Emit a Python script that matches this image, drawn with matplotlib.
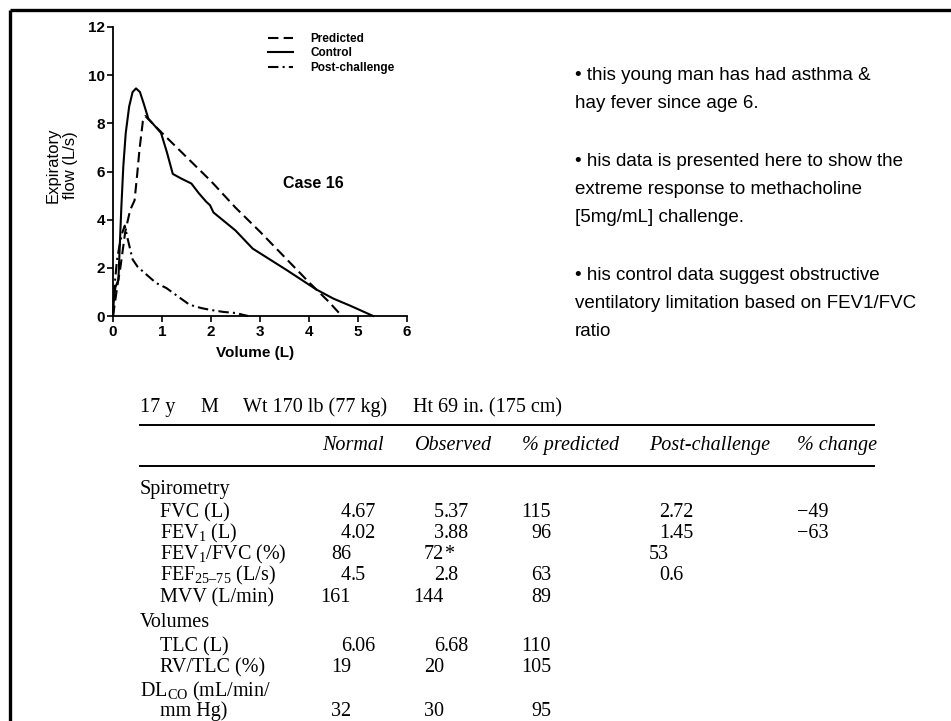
import matplotlib
matplotlib.use("Agg")
import matplotlib.pyplot as plt

plt.rcParams['font.family'] = ['Liberation Sans', 'DejaVu Sans']
plt.rcParams['mathtext.fontset'] = 'custom'
plt.rcParams['mathtext.rm'] = 'Liberation Serif'
plt.rcParams['mathtext.it'] = 'Liberation Serif:italic'

# flow-volume curves
pred_vol = [0.0, 0.05, 0.10, 0.15, 0.25, 0.35, 0.44, 0.49, 0.54, 0.61, 0.66,
            1.0, 1.5, 2.0, 2.5, 3.0, 3.5, 4.0, 4.4, 4.67]
pred_flow = [0.0, 0.7, 1.4, 2.0, 3.5, 4.4, 4.8, 5.8, 6.9, 8.1, 8.3,
             7.6, 6.6, 5.6, 4.5, 3.5, 2.45, 1.4, 0.6, 0.0]

ctrl_vol = [0.0, 0.02, 0.05, 0.11, 0.13, 0.17, 0.21, 0.26, 0.33, 0.40, 0.47,
            0.55, 0.63, 0.72, 0.85, 0.98, 1.10, 1.22, 1.40, 1.60, 1.75, 1.90,
            1.98, 2.05, 2.50, 2.85, 3.20, 3.55, 3.85, 4.15, 4.50, 4.85, 5.20, 5.31]
ctrl_flow = [0.0, 0.8, 1.2, 1.5, 2.5, 4.5, 6.2, 7.6, 8.7, 9.3, 9.45,
             9.3, 8.8, 8.2, 7.9, 7.6, 6.8, 5.9, 5.7, 5.5, 5.1, 4.75,
             4.6, 4.3, 3.55, 2.8, 2.35, 1.9, 1.5, 1.1, 0.72, 0.42, 0.1, 0.0]

post_vol = [0.0, 0.03, 0.08, 0.13, 0.18, 0.24, 0.30, 0.40, 0.50, 0.61, 0.75,
            0.88, 1.09, 1.30, 1.56, 1.80, 1.97, 2.25, 2.52, 2.65, 2.76]
post_flow = [0.0, 1.2, 2.3, 2.9, 3.4, 3.75, 3.2, 2.35, 2.05, 1.85, 1.6,
             1.37, 1.16, 0.85, 0.47, 0.33, 0.26, 0.17, 0.12, 0.05, 0.0]

x_ticks = [0, 1, 2, 3, 4, 5, 6]
y_ticks = [0, 2, 4, 6, 8, 10, 12]

notes = [
    ["\u2022 this young man has had asthma &", "hay fever since age 6."],
    ["\u2022 his data is presented here to show the",
     "extreme response to methacholine", "[5mg/mL] challenge."],
    ["\u2022 his control data suggest obstructive",
     "ventilatory limitation based on FEV1/FVC", "ratio"],
]

# table
info = ["17 y", "M", "Wt 170 lb (77 kg)", "Ht 69 in. (175 cm)"]
col_heads = ["Normal", "Observed", "% predicted", "Post-challenge", "% change"]
row_labels = ["Spirometry", "FVC (L)", r"FEV$_1$ (L)", r"FEV$_1$/FVC (%)",
              r"FEF$_{\mathrm{25–75}}$ (L/s)", "MVV (L/min)", "Volumes",
              "TLC (L)", "RV/TLC (%)", r"D$\mathrm{L_{CO}}$ (mL/min/", "mm Hg)"]
row_indent = [0, 1, 1, 1, 1, 1, 0, 1, 1, 0, 1]
normal = ["", "4.67", "4.02", "86", "4.5", "161", "", "6.06", "19", "", "32"]
observed = ["", "5.37", "3.88", "72*", "2.8", "144", "", "6.68", "20", "", "30"]
pct_pred = ["", "115", "96", "", "63", "89", "", "110", "105", "", "95"]
post = ["", "2.72", "1.45", "53", "0.6", "", "", "", "", "", ""]
change = ["", "\u221249", "\u221263", "", "", "", "", "", "", "", ""]

W, H = 951, 721
fig = plt.figure(figsize=(W / 100, H / 100), dpi=100)

# pixel overlay for slide text, table and frame
ov = fig.add_axes([0, 0, 1, 1])
ov.set_xlim(0, W)
ov.set_ylim(H, 0)
ov.axis('off')

ov.plot([10, W], [10, 10], color='black', lw=2.4, solid_capstyle='butt')
ov.plot([10, 10], [10, H], color='black', lw=2.4, solid_capstyle='butt')

base = 80
for para in notes:
    for line in para:
        ov.text(575, base, line, fontsize=13.5, va='baseline', ha='left')
        base += 28.5
    base += 28.5

serif = 'Liberation Serif'
tfs = 14.5
for s, x in zip(info, [140, 200, 243, 413]):
    ov.text(x, 412, s, family=serif, fontsize=tfs, va='baseline')
ov.plot([140, 874], [425, 425], color='black', lw=1.4)
ov.plot([140, 874], [466, 466], color='black', lw=1.4)
for s, x in zip(col_heads, [322, 415, 522, 649, 797]):
    ov.text(x, 450, s, family=serif, style='italic', fontsize=tfs, va='baseline')

row_base = [494, 517, 538, 559, 580, 602, 627, 651, 672, 696, 716]


def put_dec(x, y, s):
    # decimal aligned number
    if not s:
        return
    if '.' in s:
        a, b = s.split('.')
        b = '.' + b
    elif s.endswith('*'):
        a, b = s[:-1], '*'
    else:
        a, b = s, ''
    ov.text(x, y, a, family=serif, fontsize=tfs, va='baseline', ha='right')
    if b:
        ov.text(x, y, b, family=serif, fontsize=tfs, va='baseline', ha='left')


for i, y in enumerate(row_base):
    ov.text(140 + 20 * row_indent[i], y, row_labels[i], family=serif,
            fontsize=tfs, va='baseline')
    put_dec(351, y, normal[i])
    put_dec(444, y, observed[i])
    if pct_pred[i]:
        ov.text(551, y, pct_pred[i], family=serif, fontsize=tfs,
                va='baseline', ha='right')
    put_dec(669, y, post[i])
    if change[i]:
        ov.text(797, y, change[i], family=serif, fontsize=tfs, va='baseline')

# chart
ax = fig.add_axes([113 / W, 1 - 316 / H, 294 / W, 289 / H])
ax.patch.set_alpha(0)
ax.plot(pred_vol, pred_flow, color='black', lw=1.5, ls=(0, (5, 2.5)),
        label='Predicted', clip_on=False)
ax.plot(ctrl_vol, ctrl_flow, color='black', lw=1.5, label='Control',
        clip_on=False)
ax.plot(post_vol, post_flow, color='black', lw=1.5, ls=(0, (5, 2, 1, 2)),
        label='Post-challenge', clip_on=False)
ax.set_xlim(0, 6)
ax.set_ylim(0, 12)
ax.set_xticks(x_ticks)
ax.set_yticks(y_ticks)
for sp in ['top', 'right']:
    ax.spines[sp].set_visible(False)
for sp in ['left', 'bottom']:
    ax.spines[sp].set_linewidth(1.3)
ax.tick_params(direction='out', length=4, width=1.2, labelsize=11)
ax.tick_params(axis='y', pad=1.5)
ax.tick_params(axis='x', pad=2.5)
for t in ax.get_xticklabels() + ax.get_yticklabels():
    t.set_fontweight('bold')

ax.set_ylabel('Expiratory\nflow (L/s)', fontsize=12)
ax.yaxis.set_label_coords(-0.118, 0.522)
ax.set_xlabel('Volume (L)', fontsize=11, fontweight='bold')
ax.xaxis.set_label_coords(0.483, -0.105)

ax.text(3.47, 5.3, 'Case 16', fontsize=11.5, fontweight='bold', va='baseline')

leg = ax.legend(loc='upper left', bbox_to_anchor=((268 - 113) / 294, (316 - 33) / 289),
                frameon=False, borderpad=0, borderaxespad=0, handlelength=2.1,
                handletextpad=1.5, labelspacing=0.2,
                prop={'size': 8.5, 'weight': 'bold'})

fig.savefig('out.png', dpi=100)
